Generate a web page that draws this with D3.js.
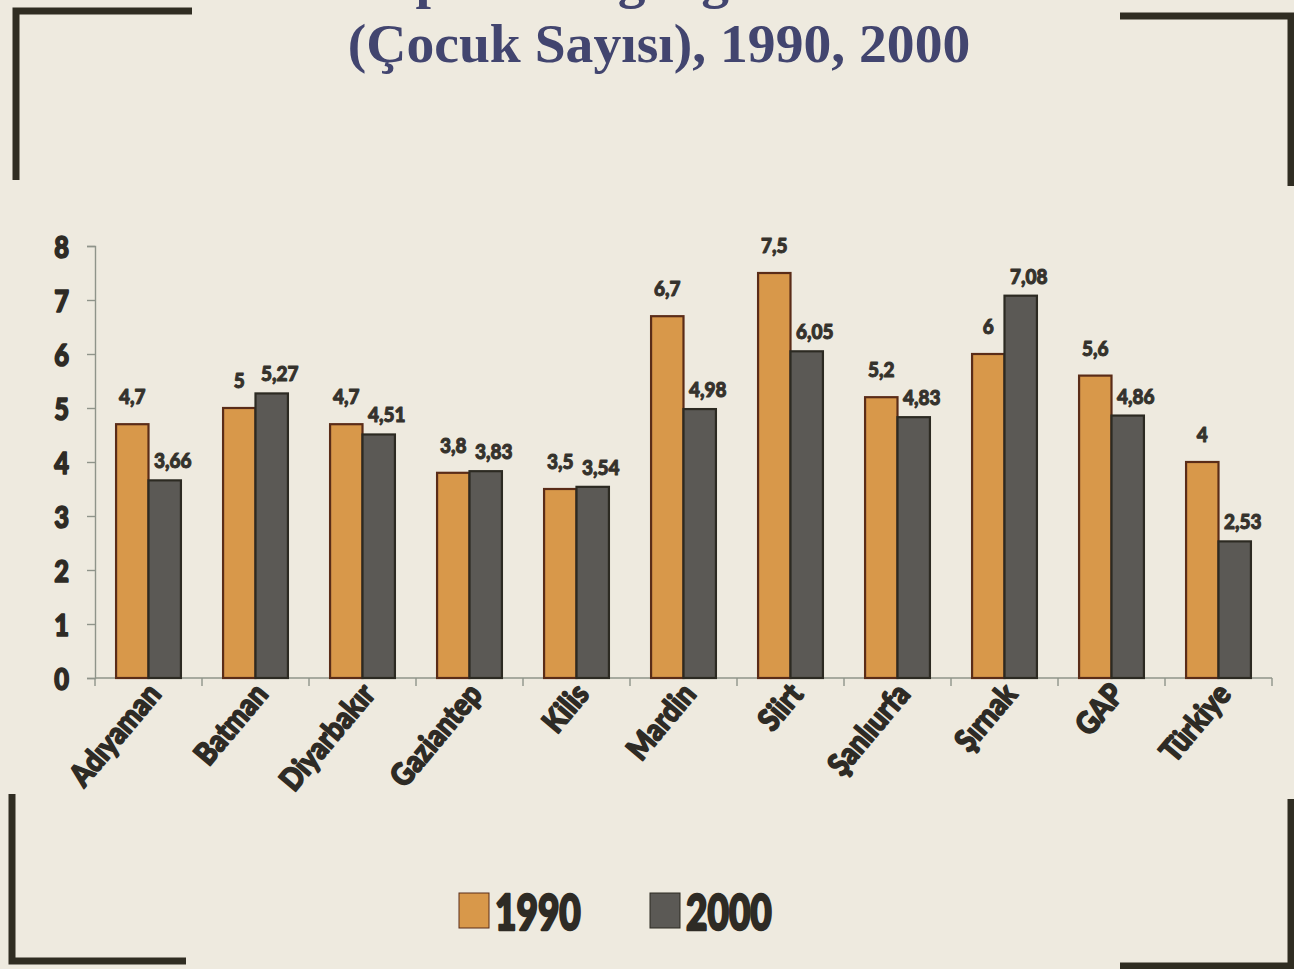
<!DOCTYPE html>
<html>
<head>
<meta charset="utf-8">
<script src="https://cdn.jsdelivr.net/npm/d3@7"></script>
<style>
  html, body { margin: 0; padding: 0; background: #eeeadf; }
  svg { display: block; }
  .heavy { font-family: Lato, Roboto, "Liberation Sans", sans-serif; font-weight: 900; stroke-linejoin: round; }
</style>
</head>
<body>
<svg id="chart" width="1294" height="969"></svg>
<script>
// data
const provinces = ['Adıyaman', 'Batman', 'Diyarbakır', 'Gaziantep', 'Kilis', 'Mardin',
                   'Siirt', 'Şanlıurfa', 'Şırnak', 'GAP', 'Türkiye']
const years = ['1990', '2000']
const values1990 = [4.7, 5, 4.7, 3.8, 3.5, 6.7, 7.5, 5.2, 6, 5.6, 4]
const values2000 = [3.66, 5.27, 4.51, 3.83, 3.54, 4.98, 6.05, 4.83, 7.08, 4.86, 2.53]
const yTicks = [0, 1, 2, 3, 4, 5, 6, 7, 8]
const titleLines = ['Toplam Doğurganlık Hızı', '(Çocuk Sayısı), 1990, 2000']

const COLORS = { '1990': '#d8984a', '2000': '#5b5955' }
const STROKES = { '1990': '#5a2c18', '2000': '#2c2a22' }
const INK = '#2e2b25'
const AXIS = '#8f948a'
const MARGINS = { top: 246, left: 95, bottom: 291, right: 22 }

const W = 1294, H = 969
const svg = d3.select('#chart')

// corner brackets of the printed frame
const frame = svg.append('g').attr('fill', 'none').attr('stroke', '#302d22').attr('stroke-width', 7)
frame.append('path').attr('d', 'M16,180V11H192')
frame.append('path').attr('d', 'M1120,16H1291V186')
frame.append('path').attr('d', 'M12,794V961H186')
frame.append('path').attr('d', 'M1120,966H1291V799')

// title (first line runs off the top of the scan, as in the print)
svg.append('g')
  .attr('font-family', '"Liberation Serif", "DejaVu Serif", serif')
  .attr('font-weight', 'bold')
  .attr('font-size', 54)
  .attr('fill', '#42456f')
  .attr('text-anchor', 'middle')
  .selectAll('text')
  .data(titleLines)
  .join('text')
    .attr('transform', (d, i) => `translate(659,${-3 + i * 65}) scale(1.03,1)`)
    .text(d => d)

const width = W - MARGINS.left - MARGINS.right
const height = H - MARGINS.top - MARGINS.bottom

const x0 = d3.scaleBand().domain(provinces).range([0, width]).padding(0)
const x1 = d3.scaleBand().domain(years).range([0, x0.bandwidth()]).paddingInner(0).paddingOuter(0.65)
const y = d3.scaleLinear().domain([0, 8]).range([height, 0])

const g = svg.append('g').attr('transform', `translate(${MARGINS.left},${MARGINS.top})`)

// y axis
const yAxis = g.append('g')
  .call(d3.axisLeft(y).tickValues(yTicks).tickSize(8).tickPadding(18).tickFormat(d3.format('d')))
yAxis.select('.domain').attr('stroke', AXIS).attr('stroke-width', 1.4)
yAxis.selectAll('.tick line').attr('stroke', AXIS).attr('stroke-width', 1.4)
yAxis.selectAll('.tick text')
  .attr('class', 'heavy')
  .attr('font-size', 30)
  .attr('fill', INK)
  .attr('stroke', INK)
  .attr('stroke-width', 1.6)
  .attr('dy', null)
  .attr('transform', function() { return `translate(${this.getAttribute('x')},11) scale(0.85,1)` })
  .attr('x', 0)

// x axis, ticks between the groups
const xAxis = g.append('g').attr('transform', `translate(0,${height})`)
xAxis.append('path')
  .attr('d', `M0,0H${width}`)
  .attr('stroke', AXIS).attr('stroke-width', 1.4)
xAxis.selectAll('line')
  .data(provinces.map(p => x0(p)).concat([width]))
  .join('line')
    .attr('x1', d => d).attr('x2', d => d)
    .attr('y1', 0).attr('y2', 8)
    .attr('stroke', AXIS).attr('stroke-width', 1.4)

xAxis.selectAll('text')
  .data(provinces)
  .join('text')
    .attr('class', 'heavy')
    .attr('font-size', 31)
    .attr('fill', INK)
    .attr('stroke', INK)
    .attr('stroke-width', 1.6)
    .attr('text-anchor', 'end')
    .attr('transform', d => `translate(${x0(d) + x0.bandwidth() / 2 + 14},${17}) rotate(-50) scale(0.88,1)`)
    .text(d => d)

// bars
const rows = provinces.map((p, i) => ({ name: p, '1990': values1990[i], '2000': values2000[i] }))
const fmt = v => String(v).replace('.', ',')

const groups = g.selectAll('g.group')
  .data(rows)
  .join('g')
    .attr('class', 'group')
    .attr('transform', d => `translate(${x0(d.name)},0)`)

groups.selectAll('rect')
  .data(d => years.map(k => ({ key: k, value: d[k] })))
  .join('rect')
    .attr('x', d => x1(d.key))
    .attr('y', d => y(d.value))
    .attr('width', x1.bandwidth())
    .attr('height', d => height - y(d.value))
    .attr('fill', d => COLORS[d.key])
    .attr('stroke', d => STROKES[d.key])
    .attr('stroke-width', 2.2)

// value labels: 1990 centred above, 2000 nudged right
groups.selectAll('text')
  .data(d => years.map(k => ({ key: k, value: d[k] })))
  .join('text')
    .attr('class', 'heavy')
    .attr('font-size', 20)
    .attr('fill', '#35322c')
    .attr('stroke', '#35322c')
    .attr('stroke-width', 1)
    .attr('text-anchor', 'middle')
    .attr('transform', d => {
      let cx = x1(d.key) + x1.bandwidth() / 2 + (d.key === '2000' ? 8 : 0)
      let cy = y(d.value) - (d.key === '2000' ? 12 : 20)
      return `translate(${cx},${cy}) scale(0.95,1)`
    })
    .text(d => fmt(d.value))

// legend
const legend = svg.append('g').attr('transform', 'translate(459,893)')
const item = legend.selectAll('g')
  .data(years)
  .join('g')
    .attr('transform', (d, i) => `translate(${i * 191},0)`)
item.append('rect')
  .attr('width', 30).attr('height', 35)
  .attr('fill', d => COLORS[d])
  .attr('stroke', d => STROKES[d]).attr('stroke-width', 1)
item.append('text')
  .attr('class', 'heavy')
  .attr('font-size', 50)
  .attr('fill', INK)
  .attr('stroke', INK)
  .attr('stroke-width', 2.4)
  .attr('transform', 'translate(36,37) scale(0.74,1)')
  .text(d => d)
</script>
</body>
</html>
